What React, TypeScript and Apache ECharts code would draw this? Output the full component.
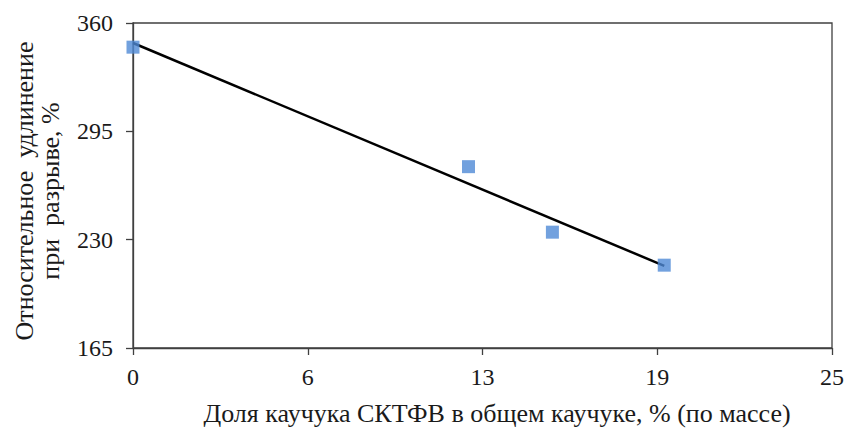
import React, { useEffect, useRef } from "react";
import * as echarts from "echarts";

const xValues = [0, 12, 15, 19];
const yValues = [345.5, 273.8, 234.5, 214.7];
const trendX = [0, 19];
const trendY = [348, 214.3];
const xTitle = "Доля каучука СКТФВ в общем каучуке, % (по массе)";
const yTitle = "Относительное  удлинение\nпри  разрыве, %";

const FONT = "'Liberation Serif', 'Times New Roman', serif";

export default function App() {
  const ref = useRef<HTMLDivElement>(null);
  useEffect(() => {
    if (!ref.current) return;
    const chart = echarts.init(ref.current, null, { renderer: "svg" });
    chart.setOption({
      animation: false,
      backgroundColor: "#ffffff",
      grid: { left: 133, top: 23, right: 14, bottom: 84, show: true, borderColor: "#404040", borderWidth: 1.3 },
      xAxis: {
        type: "value",
        min: 0,
        max: 25,
        interval: 6.25,
        axisLine: { show: true, lineStyle: { color: "#404040", width: 1.3 } },
        axisTick: { show: true, inside: false, length: 7, lineStyle: { color: "#404040", width: 1.3 } },
        splitLine: { show: false },
        axisLabel: {
          color: "#1a1a1a",
          fontFamily: FONT,
          fontSize: 24,
          margin: 17,
          formatter: (v: number) => String(Math.round(v)),
        },
      },
      yAxis: {
        type: "value",
        min: 165,
        max: 360,
        interval: 65,
        axisLine: { show: true, lineStyle: { color: "#404040", width: 1.3 } },
        axisTick: { show: true, inside: false, length: 7, lineStyle: { color: "#404040", width: 1.3 } },
        splitLine: { show: false },
        axisLabel: { color: "#1a1a1a", fontFamily: FONT, fontSize: 24, margin: 20 },
      },
      graphic: [
        {
          type: "text",
          x: 497,
          y: 413,
          style: {
            text: xTitle,
            fontFamily: FONT,
            fontSize: 26,
            fill: "#1a1a1a",
            textAlign: "center",
            textVerticalAlign: "middle",
          },
        },
        {
          type: "text",
          x: 37,
          y: 191,
          rotation: Math.PI / 2,
          style: {
            text: yTitle,
            fontFamily: FONT,
            fontSize: 26,
            lineHeight: 26,
            fill: "#1a1a1a",
            textAlign: "center",
            textVerticalAlign: "middle",
          },
        },
      ],
      series: [
        {
          type: "line",
          data: trendX.map((x, i) => [x, trendY[i]]),
          showSymbol: false,
          symbol: "none",
          lineStyle: { color: "#000000", width: 2.5 },
          z: 2,
        },
        {
          type: "scatter",
          data: xValues.map((x, i) => [x, yValues[i]]),
          symbol: "rect",
          symbolSize: 13,
          itemStyle: { color: "#4f89d6" },
          z: 3,
        },
      ],
    });
    return () => chart.dispose();
  }, []);
  return (
    <div
      ref={ref}
      style={{ position: "absolute", left: 0, top: 0, width: 847, height: 432 }}
    />
  );
}
